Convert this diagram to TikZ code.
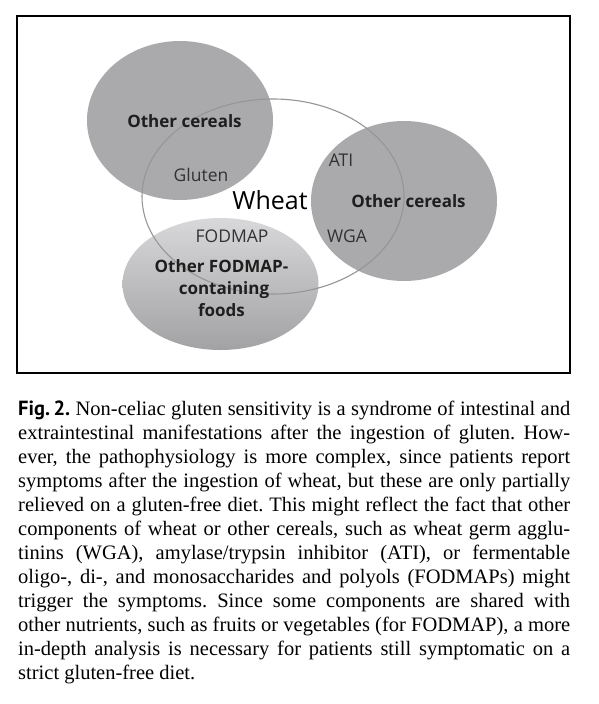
\documentclass[tikz,border=0pt]{standalone}
\usepackage{fontspec}
\setmainfont{Liberation Serif}
\newfontfamily\vennfont{Open Sans}
\newfontfamily\capfont{Liberation Serif}
\newfontfamily\figfont{PT Sans}
\definecolor{circgray}{RGB}{170,170,173}
\definecolor{fodtop}{RGB}{216,216,218}
\definecolor{fodbot}{RGB}{162,162,164}
\definecolor{wheatline}{RGB}{150,150,150}
\definecolor{labdark}{RGB}{30,30,30}
\definecolor{labsoft}{RGB}{50,50,50}
\tikzset{
  setfill/.style={fill=circgray},
  wheatring/.style={draw=wheatline, line width=1.1pt},
  boldlab/.style={anchor=base, inner sep=0pt, text=labdark, font=\vennfont\bfseries\fontsize{17}{20}\selectfont},
  partlab/.style={anchor=base, inner sep=0pt, text=labsoft, font=\vennfont\fontsize{17.5}{20}\selectfont},
  wheatlab/.style={anchor=base, inner sep=0pt, text=black, font=\vennfont\fontsize{25}{28}\selectfont},
  capline/.style={anchor=base west, inner sep=0pt, font=\capfont\fontsize{20.5}{24}\selectfont\frenchspacing}
}
\begin{document}
\begin{tikzpicture}[x=1pt,y=-1pt]
\fill[white] (0,0) rectangle (598,704);
\useasboundingbox (0,0) rectangle (598,704);
% frame
\draw[black, line width=1.3pt] (17,16) rectangle (570,373);
% sets
\fill[setfill] (180,120.5) ellipse [x radius=93pt, y radius=79.5pt];
\fill[setfill] (404,201) ellipse [x radius=93pt, y radius=80pt];
\shade[top color=fodtop, bottom color=fodbot] (220.5,284) ellipse [x radius=98pt, y radius=66pt];
% wheat outline on top
\draw[wheatring] (273,196.5) ellipse [x radius=131pt, y radius=97.5pt];
% labels
\node[boldlab] (oc1) at (184.5,127) {Other cereals};
\node[partlab] (glu) at (201,181) {Gluten};
\node[wheatlab] (wht) at (270,209) {Wheat};
\node[partlab] (ati) at (341,166) {ATI};
\node[partlab] (wga) at (347,242) {WGA};
\node[boldlab] (oc2) at (408.5,207) {Other cereals};
\node[partlab] (fod) at (232,242) {FODMAP};
\node[boldlab] (of1) at (221.5,272) {Other FODMAP-};
\node[boldlab] (of2) at (224,294.5) {containing};
\node[boldlab] (of3) at (221.5,316) {foods};
% caption
\node[capline] (c1) at (18,415) {\makebox[552pt][s]{{\figfont\bfseries Fig.\,2.} Non-celiac gluten sensitivity is a syndrome of intestinal and}};
\node[capline] (c2) at (18,439) {\makebox[552pt][s]{extraintestinal manifestations after the ingestion of gluten. How-}};
\node[capline] (c3) at (18,463) {\makebox[552pt][s]{ever, the pathophysiology is more complex, since patients report}};
\node[capline] (c4) at (18,487) {\makebox[552pt][s]{symptoms after the ingestion of wheat, but these are only partially}};
\node[capline] (c5) at (18,511) {\makebox[552pt][s]{relieved on a gluten-free diet. This might reflect the fact that other}};
\node[capline] (c6) at (18,535) {\makebox[552pt][s]{components of wheat or other cereals, such as wheat germ agglu-}};
\node[capline] (c7) at (18,559) {\makebox[552pt][s]{tinins (WGA), amylase/trypsin inhibitor (ATI), or fermentable}};
\node[capline] (c8) at (18,583) {\makebox[552pt][s]{oligo-, di-, and monosaccharides and polyols (FODMAPs) might}};
\node[capline] (c9) at (18,607) {\makebox[552pt][s]{trigger the symptoms. Since some components are shared with}};
\node[capline] (c10) at (18,631) {\makebox[552pt][s]{other nutrients, such as fruits or vegetables (for FODMAP), a more}};
\node[capline] (c11) at (18,655) {\makebox[552pt][s]{in-depth analysis is necessary for patients still symptomatic on a}};
\node[capline] (c12) at (18,679) {strict gluten-free diet.};
\end{tikzpicture}
\end{document}
